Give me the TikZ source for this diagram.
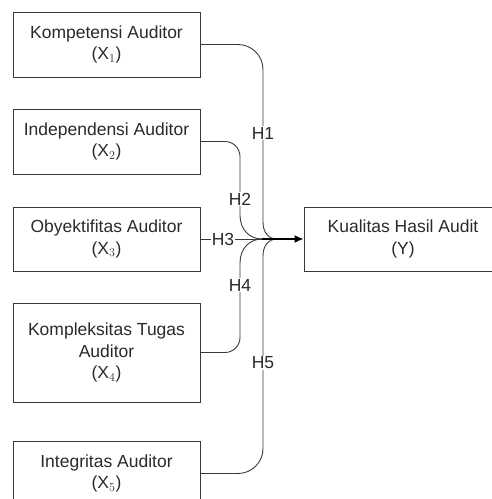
\documentclass[tikz,border=0pt]{standalone}
\usepackage{fontspec}
\setmainfont{Liberation Sans}
\usetikzlibrary{arrows.meta}
\definecolor{ln}{HTML}{3A3A3A}
\definecolor{tx}{HTML}{2A2A2A}
\begin{document}
\begin{tikzpicture}[x=1pt,y=-1pt,
  box/.style={draw=ln,line width=1pt,minimum width=187pt,minimum height=65pt,align=center,
    text=tx,font=\fontsize{17.5}{21.5}\selectfont,inner sep=0pt},
  conn/.style={draw=ln,line width=0.9pt},
  hlab/.style={fill=white,text=tx,font=\fontsize{17.5}{18}\selectfont,inner sep=1pt}]
\useasboundingbox (0,0) rectangle (492,499);
\clip (0,0) rectangle (492,499);
\node[box] (k1) at (106.5,44.5) {Kompetensi Auditor\\(X$_1$)};
\node[box] (k2) at (106.5,141.5) {Independensi Auditor\\(X$_2$)};
\node[box,minimum height=64pt] (k3) at (106.5,239) {Obyektifitas Auditor\\(X$_3$)};
\node[box,minimum height=99pt] (k4) at (106.5,352.5) {Kompleksitas Tugas\\Auditor\\(X$_4$)};
\node[box] (k5) at (106.5,473.5) {Integritas Auditor\\(X$_5$)};
\node[box,minimum width=198pt,minimum height=64pt] (y) at (403,239) {Kualitas Hasil Audit\\(Y)};
\coordinate (j1) at (262,239);
\coordinate (j2) at (277,239);
% H1
\draw[conn] (k1.east) -- (238,44.5) arc[start angle=-90,end angle=0,radius=25] -- (263,222)
  .. controls (263,233) and (269,239) .. (j2);
% H2
\draw[conn] (k2.east) -- (225,141.5) arc[start angle=-90,end angle=0,radius=15] -- (240,215)
  .. controls (240,230) and (250,239) .. (j1);
% H3
\draw[conn] (k3.east) -- (j1);
% H4
\draw[conn] (k4.east) -- (225,352.5) arc[start angle=90,end angle=0,radius=15] -- (240,263)
  .. controls (240,248) and (250,239) .. (j1);
% H5
\draw[conn] (k5.east) -- (238,473.5) arc[start angle=90,end angle=0,radius=25] -- (263,256)
  .. controls (263,245) and (269,239) .. (j2);
% arrow to Y
\draw[draw=black,line width=1.4pt,-{Latex[length=9pt,width=8pt]}] (j1) -- (y.west);
% labels
\node[hlab] at (263,133) {H1};
\node[hlab] at (240,199) {H2};
\node[hlab] at (223,239) {H3};
\node[hlab] at (240,285) {H4};
\node[hlab] at (263,363) {H5};
\end{tikzpicture}
\end{document}
